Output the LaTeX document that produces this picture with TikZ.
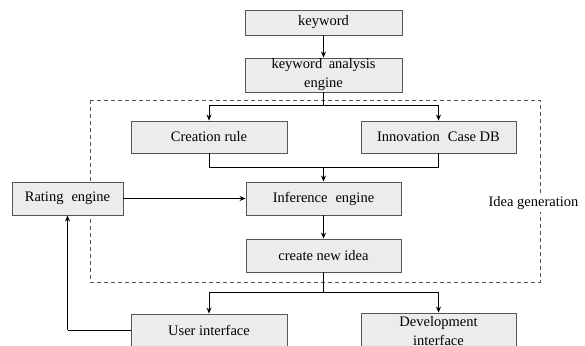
\documentclass[tikz,border=0pt]{standalone}
\usepackage{fontspec}
\setmainfont{Liberation Serif}
\newfontfamily\serifface{Liberation Serif}
\usetikzlibrary{arrows.meta}
\definecolor{boxfill}{HTML}{ECECEC}
\definecolor{boxline}{HTML}{555555}
\begin{document}
\begin{tikzpicture}[x=1pt,y=-1pt,
  txt/.style={font=\serifface\fontsize{14.5}{19}\selectfont},
  box/.style={txt,draw=boxline,fill=boxfill,line width=0.9pt,inner sep=0pt,
    align=center},
  link/.style={line width=1pt,black},
  arr/.style={link,-{Stealth[length=6pt,width=5pt]}}]
\useasboundingbox (0,0) rectangle (585,345);
\clip (0,0) rectangle (585,345);
\fill[white] (0,0) rectangle (585,345);

% idea generation frame
\draw[boxline,line width=0.8pt,dash pattern=on 4pt off 3pt] (90,100) rectangle (540,282);
\node[txt,fill=white,inner sep=2pt] (lbl) at (533.5,203) {Idea generation};

% blocks
\node[box,minimum width=157pt,minimum height=25pt] (kw) at (323.5,22.5) {keyword};
\node[box,minimum width=157pt,minimum height=34pt] (kae) at (323.5,75) {keyword\hspace{0.45em}analysis\\engine};
\node[box,minimum width=156pt,minimum height=32pt] (cr) at (209,137) {Creation rule};
\node[box,minimum width=155pt,minimum height=32pt] (icdb) at (438.5,137) {Innovation\hspace{0.55em}Case DB};
\node[box,minimum width=155pt,minimum height=33pt] (inf) at (323.5,198.5) {Inference\hspace{0.55em}engine};
\node[box,minimum width=111pt,minimum height=33pt] (rate) at (67.5,198.5) {Rating\hspace{0.55em}engine};
\node[box,minimum width=155pt,minimum height=33pt] (cni) at (323.5,255.5) {create new idea};
\node[box,minimum width=156pt,minimum height=32pt] (ui) at (209,330) {User interface};
\node[box,minimum width=155pt,minimum height=36pt] (dev) at (438.5,331) {Development\\interface};

% junction points
\coordinate (split1) at (323.5,105);
\coordinate (merge1) at (323.5,167);
\coordinate (split2) at (323.5,292);
\coordinate (fb) at (67.5,330);

% connectors
\draw[arr] (kw) -- (kae);
\draw[link] (kae) -- (split1);
\draw[arr] (split1) -| (cr);
\draw[arr] (split1) -| (icdb);
\draw[link] (cr) |- (merge1);
\draw[link] (icdb) |- (merge1);
\draw[arr] (merge1) -- (inf);
\draw[arr] (rate) -- (inf);
\draw[arr] (inf) -- (cni);
\draw[link] (cni) -- (split2);
\draw[arr] (split2) -| (ui);
\draw[arr] (split2) -| (dev);
\draw[link] (ui.west) -- (fb);
\draw[arr] (fb) -- (rate);
\end{tikzpicture}
\end{document}
